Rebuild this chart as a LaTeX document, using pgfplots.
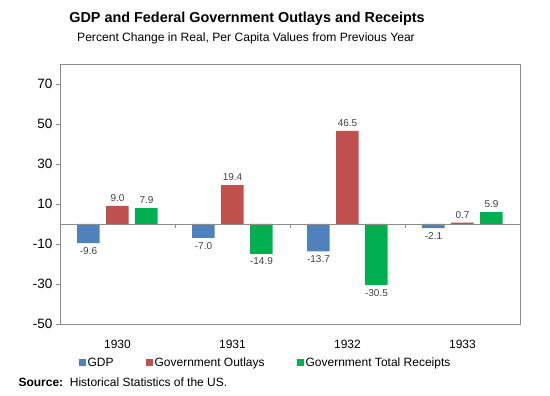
\documentclass[border=0pt]{standalone}
\usepackage{fontspec}
\setmainfont{Liberation Sans}
\usepackage{pgfplots}
\pgfplotsset{compat=1.18}
\definecolor{gdp}{HTML}{4F81BD}
\definecolor{outl}{HTML}{C0504D}
\definecolor{rec}{HTML}{00B050}
\definecolor{axgray}{HTML}{8C8C8C}
\definecolor{lblgray}{HTML}{404040}
\begin{document}
\begin{tikzpicture}
\path[use as bounding box] (0pt,0pt) rectangle (550pt,396pt);
\node[font=\fontsize{14.4}{16}\selectfont\bfseries] at (247pt,377pt) {GDP and Federal Government Outlays and Receipts};
\node[font=\fontsize{12.1}{14}\selectfont] at (246pt,358pt) {Percent Change in Real, Per Capita Values from Previous Year};
\begin{axis}[
  at={(60pt,72pt)}, anchor=south west,
  scale only axis, width=460pt, height=260pt,
  xmin=-0.5, xmax=3.5, ymin=-50, ymax=80,
  ytick={-50,-30,-10,10,30,50,70},
  xtick={0,1,2,3}, xticklabels={1930,1931,1932,1933},
  axis line style={axgray},
  ytick pos=left, tick align=outside, major tick length=4pt,
  y tick style={axgray},
  x tick style={draw=none},
  xticklabel style={yshift=-9pt, font=\fontsize{12}{14}\selectfont},
  yticklabel style={font=\fontsize{13.5}{15}\selectfont},
  /pgf/number format/assume math mode=true,
  ybar, bar width=22.5pt,
  nodes near coords,
  nodes near coords style={font=\fontsize{10}{12}\selectfont, text=lblgray, inner sep=4pt,
    /pgf/number format/fixed, /pgf/number format/precision=1,
    /pgf/number format/fixed zerofill, /pgf/number format/assume math mode=true},
  legend columns=3,
  legend style={draw=none, fill=none, at={(0.04,-0.15)}, anchor=west, inner sep=0pt,
    font=\fontsize{12}{14}\selectfont,
    /tikz/every even column/.append style={column sep=30pt}},
  legend cell align=left,
  legend image code/.code={\fill[#1,draw=none] (0pt,-3.5pt) rectangle (7pt,3.5pt);},
]
\addplot[fill=gdp, draw=none, bar shift=-29pt] coordinates {(0,-9.6) (1,-7.0) (2,-13.7) (3,-2.1)};
\addlegendentry{GDP}
\addplot[fill=outl, draw=none, bar shift=0pt] coordinates {(0,9.0) (1,19.4) (2,46.5) (3,0.7)};
\addlegendentry{Government Outlays}
\addplot[fill=rec, draw=none, bar shift=29pt] coordinates {(0,7.9) (1,-14.9) (2,-30.5) (3,5.9)};
\addlegendentry{Government Total Receipts}
\draw[axgray] (axis cs:-0.5,0) -- (axis cs:3.5,0);
\draw[axgray] (axis cs:0.5,0) -- ++(0pt,-4pt);
\draw[axgray] (axis cs:1.5,0) -- ++(0pt,-4pt);
\draw[axgray] (axis cs:2.5,0) -- ++(0pt,-4pt);
\end{axis}
\node[anchor=west, font=\fontsize{12}{14}\selectfont] at (15pt,14pt) {\textbf{Source:}\ \ Historical Statistics of the US.};
\end{tikzpicture}
\end{document}
